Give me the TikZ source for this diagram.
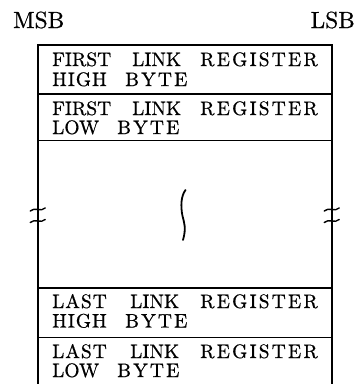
\documentclass[tikz,border=0pt]{standalone}
\usepackage{fontspec}
\newfontfamily\lmten{lmroman10-regular}[Extension=.otf,FakeBold=0.6]
\newcommand\boxfnt{\lmten\fontsize{19.5}{20}\selectfont}
\newcommand\hdrfnt{\lmten\fontsize{23.4}{24}\selectfont}
\newcommand\lsA{\addfontfeature{LetterSpace=5}}
\newcommand\lsB{\addfontfeature{LetterSpace=11}}
\newcommand\wrd[2]{\makebox[#1][l]{#2}}
\newcommand\firstline{\wrd{80pt}{FIRST}\wrd{68pt}{LINK}{\lsB REGISTER}}
\newcommand\lastline{\wrd{78pt}{{\lsA LAST}}\wrd{70pt}{LINK}{\lsB REGISTER}}
\newcommand\highline{\wrd{73pt}{{\lsA HIGH}}{\lsB BYTE}}
\newcommand\lowline{\wrd{65pt}{LOW}{\lsB BYTE}}
\begin{document}
\begin{tikzpicture}[x=1pt,y=-1pt,
  txt/.style={anchor=base west,inner sep=0pt,font=\boxfnt},
  hdr/.style={inner sep=0pt,font=\hdrfnt},
  frame/.style={line width=2.2pt},
  sep/.style={line width=1.4pt},
  brk/.style={line width=1.4pt,line cap=round}]
\useasboundingbox (0,0) rectangle (358,384);
% header
\node[hdr,anchor=base west] (msb) at (13,28) {MSB};
\node[hdr,anchor=base east] (lsb) at (355,28) {LSB};
% frame
\draw[frame] (37.7,384) -- (37.7,45) -- (331.7,45) -- (331.7,384);
\draw[sep] (37.7,94) -- (331.7,94);
\draw[sep] (37.7,140.5) -- (331.7,140.5);
\draw[sep] (37.7,288) -- (331.7,288);
\draw[sep] (37.7,337.5) -- (331.7,337.5);
% texts
\node[txt] (r1a) at (52,66) {\firstline};
\node[txt] (r1b) at (52,86) {\highline};
\node[txt] (r2a) at (52,115) {\firstline};
\node[txt] (r2b) at (52,134) {\lowline};
\node[txt] (r3a) at (52,308) {\lastline};
\node[txt] (r3b) at (52,327.5) {\highline};
\node[txt] (r4a) at (52,358) {\lastline};
\node[txt] (r4b) at (52,377) {\lowline};
% break marks
\foreach \x in {37.7,331.7}{
  \foreach \y in {209.5,221}{
    \draw[brk] (\x-7.5,\y+1.5) .. controls (\x-3,\y-3) and (\x+3,\y+3) .. (\x+7.5,\y-1.5);
  }
}
% middle squiggle
\draw[line width=1.8pt,line cap=round] (185.5,190) .. controls (181,196) and (180.5,206) .. (182.5,216)
  .. controls (184,222) and (186.5,228) .. (183,240);
\end{tikzpicture}
\end{document}
